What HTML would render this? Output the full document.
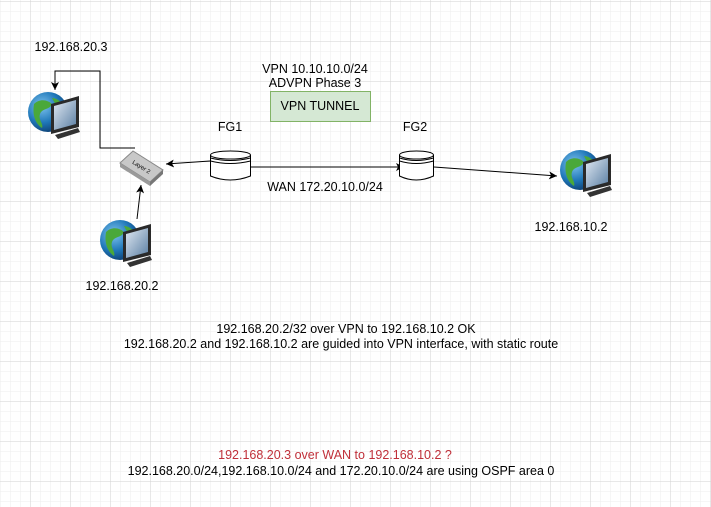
<!DOCTYPE html>
<html><head><meta charset="utf-8"><style>
html,body{margin:0;padding:0;background:#fff;}
svg{display:block;}
text{font-family:"Liberation Sans",Arial,sans-serif;font-size:12.5px;fill:#000;}
</style></head><body>
<svg width="711" height="507" viewBox="0 0 711 507" xmlns="http://www.w3.org/2000/svg">
<defs>
<pattern id="minor" width="10" height="10" patternUnits="userSpaceOnUse" x="0.5" y="1.5">
<path d="M0 0H10M0 0V10" stroke="#eeeeee" stroke-width="1" fill="none"/>
</pattern>
<pattern id="major" width="40" height="40" patternUnits="userSpaceOnUse" x="30.5" y="1.5">
<path d="M0 0H40M0 0V40" stroke="#d2d2d2" stroke-width="1" fill="none"/>
</pattern>
<radialGradient id="gl" cx="0.35" cy="0.35" r="0.7">
<stop offset="0" stop-color="#7fc4ef"/><stop offset="0.6" stop-color="#1f77b8"/><stop offset="1" stop-color="#0d3f73"/>
</radialGradient>
<linearGradient id="scr" x1="0" y1="0" x2="1" y2="1">
<stop offset="0" stop-color="#dfe8f2"/><stop offset="1" stop-color="#5b7fa3"/>
</linearGradient>
<marker id="ar" markerWidth="10" markerHeight="10" refX="8" refY="4" orient="auto" markerUnits="userSpaceOnUse">
<path d="M0 0L8 4L0 8L2 4Z" fill="#000"/>
</marker>
<g id="pc">
<circle cx="20" cy="20" r="20" fill="url(#gl)"/>
<path d="M6 12C12 6 20 8 24 12C22 18 14 16 12 22C10 28 16 32 14 36C8 32 4 24 6 12Z" fill="#4aa83a"/>
<path d="M24 6C30 6 36 12 38 18C32 20 28 14 24 6Z" fill="#4aa83a"/>
<path d="M23 12L51 4V35L23 42Z" fill="#2a2a2a"/>
<path d="M26 14L48 8V32L26 38Z" fill="url(#scr)"/>
<path d="M27 43L50 36L52 40L30 47Z" fill="#333"/>
</g>
</defs>
<rect width="711" height="507" fill="url(#minor)"/>
<rect width="711" height="507" fill="url(#major)"/>

<use href="#pc" x="28" y="92"/>
<use href="#pc" x="100" y="220"/>
<use href="#pc" x="560" y="150"/>

<polyline points="135,148 100,148 100,71 55,71 55,90" fill="none" stroke="#000" stroke-width="1" marker-end="url(#ar)"/>
<line x1="137" y1="219" x2="141" y2="185" stroke="#000" marker-end="url(#ar)"/>
<line x1="210" y1="161" x2="166" y2="164" stroke="#000" marker-end="url(#ar)"/>
<line x1="250" y1="167" x2="404" y2="167" stroke="#000" marker-end="url(#ar)"/>
<line x1="434" y1="167" x2="557" y2="176" stroke="#000" marker-end="url(#ar)"/>

<path d="M120 163L133 151L163 170L150 182Z" fill="#c8c8c8" stroke="#888" stroke-width="1"/>
<path d="M120 163L150 182L150 186L120 167Z" fill="#9a9a9a"/>
<path d="M150 182L163 170L163 174L150 186Z" fill="#777"/>
<text x="142" y="169" transform="rotate(32 142 166)" style="font-size:6px" text-anchor="middle" fill="#333">Layer 2</text>

<g fill="#fff" stroke="#000" stroke-width="1">
<path d="M210.5 155V176Q230 184 250.5 176V155"/>
<ellipse cx="230.5" cy="155" rx="20" ry="4"/>
<path d="M210.5 158Q230 163 250.5 158M210.5 161Q230 166 250.5 161" fill="none"/>
<path d="M399.5 155V176Q416 184 433.5 176V155"/>
<ellipse cx="416.5" cy="155" rx="17" ry="4"/>
<path d="M399.5 158Q416 163 433.5 158M399.5 161Q416 166 433.5 161" fill="none"/>
</g>
<text x="230" y="131" text-anchor="middle">FG1</text>
<text x="415" y="131" text-anchor="middle">FG2</text>

<text x="315" y="73" text-anchor="middle">VPN 10.10.10.0/24</text>
<text x="315" y="87" text-anchor="middle">ADVPN Phase 3</text>
<rect x="270.5" y="91.5" width="100" height="30" fill="#d5e8d4" stroke="#82b366"/>
<text x="320" y="110" text-anchor="middle">VPN TUNNEL</text>
<text x="325" y="191" text-anchor="middle">WAN 172.20.10.0/24</text>

<text x="71" y="51" text-anchor="middle">192.168.20.3</text>
<text x="122" y="290" text-anchor="middle">192.168.20.2</text>
<text x="571" y="231" text-anchor="middle">192.168.10.2</text>

<text x="346" y="333" text-anchor="middle">192.168.20.2/32 over VPN to 192.168.10.2 OK</text>
<text x="341" y="348" text-anchor="middle">192.168.20.2 and 192.168.10.2 are guided into VPN interface, with static route</text>
<text x="335" y="459" text-anchor="middle" style="fill:#c0303a">192.168.20.3 over WAN to 192.168.10.2 ?</text>
<text x="341" y="475" text-anchor="middle">192.168.20.0/24,192.168.10.0/24 and 172.20.10.0/24 are using OSPF area 0</text>
</svg>
</body></html>
